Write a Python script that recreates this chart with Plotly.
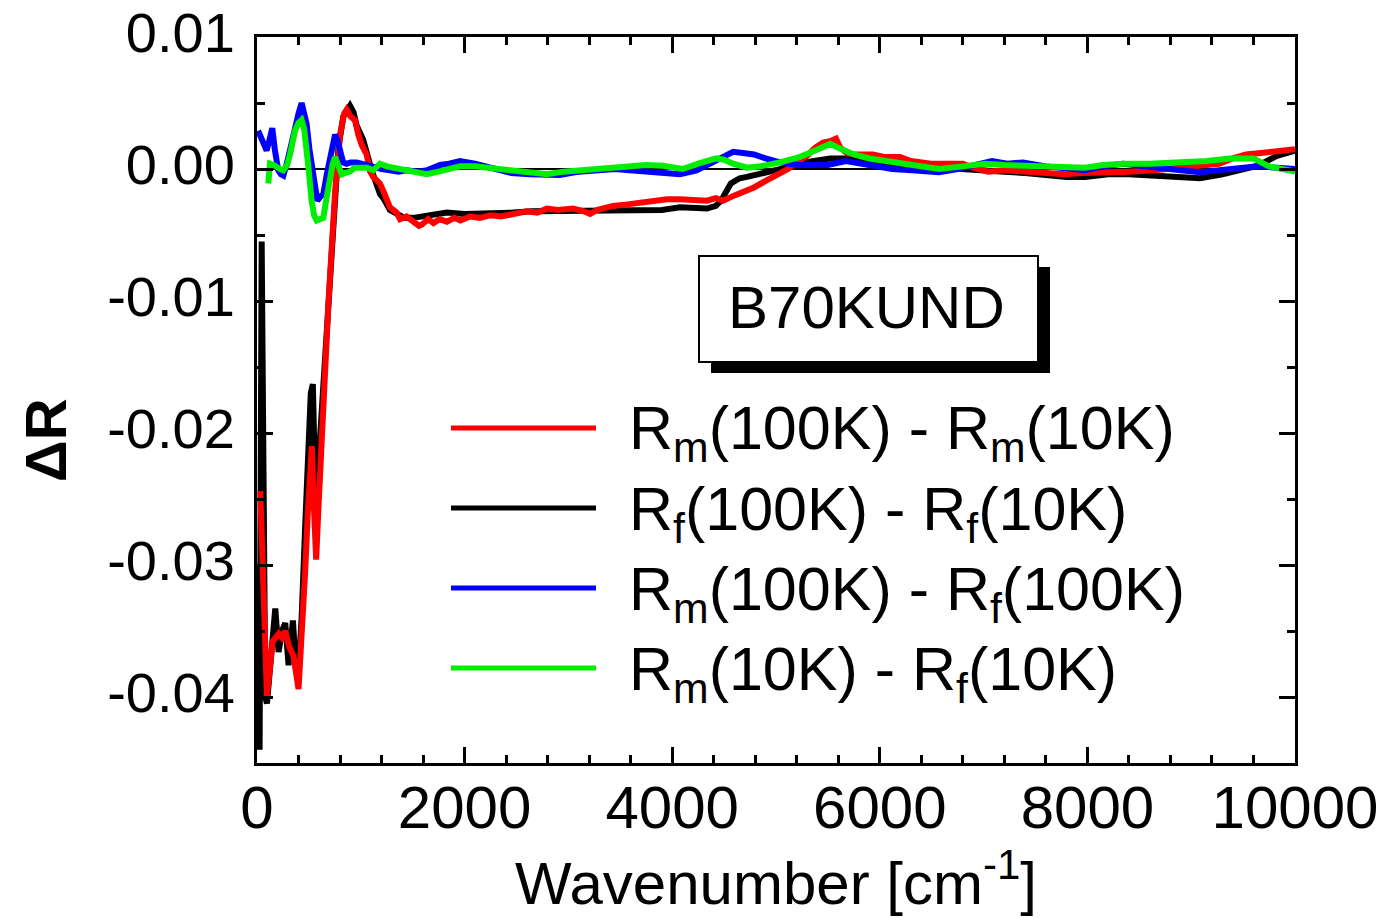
import plotly.graph_objects as go

# Wavenumber (cm^-1) and reflectance differences for sample B70KUND
wn_m100_m10 = [32, 60, 96, 150, 176, 210, 240, 272, 310, 352, 400, 430, 464, 490, 512, 528, 545, 570, 590,
               624, 688, 752, 800, 840, 864, 900, 944, 976, 1010, 1056, 1090, 1120, 1185, 1230, 1281, 1345,
               1378, 1440, 1503, 1560, 1590, 1650, 1700, 1760, 1830, 1900, 1960, 2050, 2148, 2250, 2350,
               2466, 2600, 2700, 2794, 2900, 3044, 3150, 3208, 3280, 3430, 3550, 3650, 3757, 3850, 3950,
               4075, 4200, 4335, 4420, 4490, 4600, 4720, 4788, 4900, 5038, 5116, 5200, 5298, 5376, 5453,
               5520, 5578, 5620, 5684, 5760, 5838, 5934, 6050, 6195, 6300, 6493, 6650, 6800, 6900, 7042,
               7200, 7418, 7600, 7784, 7950, 8160, 8400, 8642, 8800, 8970, 9100, 9268, 9400, 9528, 9650,
               9826, 10000]
dR_m100_m10 = [-0.0244, -0.0330, -0.0400, -0.0358, -0.0355, -0.0352, -0.0355, -0.0350, -0.0362, -0.0369,
               -0.0394, -0.0360, -0.0305, -0.0260, -0.0215, -0.0210, -0.0250, -0.0296, -0.0260, -0.0203,
               -0.0102, -0.0018, 0.0026, 0.0042, 0.0045, 0.0040, 0.0037, 0.0026, 0.0018, 0.0011, -0.0002,
               -0.0006, -0.0011, -0.0019, -0.0029, -0.0033, -0.0038, -0.0036, -0.0039, -0.0043, -0.0042,
               -0.0038, -0.0041, -0.0038, -0.0040, -0.0037, -0.0039, -0.0036, -0.0037, -0.0035, -0.0036,
               -0.0034, -0.0032, -0.0033, -0.0030, -0.0031, -0.0030, -0.0032, -0.0034, -0.0031, -0.0028,
               -0.0027, -0.0026, -0.0025, -0.0024, -0.0023, -0.0023, -0.0024, -0.0024, -0.0022, -0.0024,
               -0.0020, -0.0016, -0.0014, -0.0009, -0.0004, 0.0000, 0.0005, 0.0010, 0.0016, 0.0020, 0.0021,
               0.0023, 0.0016, 0.0012, 0.0011, 0.0011, 0.0011, 0.0009, 0.0009, 0.0006, 0.0004, 0.0004,
               0.0004, 0.0001, -0.0002, -0.0001, -0.0002, -0.0003, -0.0004, -0.0003, -0.0003, -0.0002,
               -0.0001, 0.0000, 0.0001, 0.0002, 0.0004, 0.0008, 0.0011, 0.0012, 0.0014, 0.0015]

wn_f100_f10 = [15, 25, 45, 58, 80, 96, 140, 176, 208, 240, 272, 304, 346, 378, 400, 430, 464, 496, 518,
               538, 550, 570, 608, 672, 736, 784, 832, 896, 930, 960, 1024, 1060, 1104, 1185, 1217, 1281,
               1345, 1420, 1506, 1600, 1700, 1830, 2000, 2148, 2300, 2466, 2650, 2794, 3000, 3200, 3430,
               3600, 3757, 3900, 4075, 4200, 4335, 4420, 4470, 4565, 4650, 4720, 4850, 4942, 5100, 5200,
               5308, 5521, 5674, 5800, 6000, 6310, 6600, 6900, 7200, 7400, 7601, 7800, 7977, 8200, 8400,
               8718, 8900, 9085, 9300, 9451, 9643, 9826, 10000]
dR_f100_f10 = [-0.0300, -0.0440, -0.0055, -0.0200, -0.0400, -0.0405, -0.0360, -0.0333, -0.0366, -0.0350,
               -0.0344, -0.0376, -0.0342, -0.0382, -0.0380, -0.0340, -0.0271, -0.0220, -0.0170, -0.0163,
               -0.0220, -0.0271, -0.0203, -0.0122, -0.0034, 0.0016, 0.0040, 0.0048, 0.0043, 0.0033,
               0.0022, 0.0010, -0.0001, -0.0019, -0.0022, -0.0031, -0.0034, -0.0037, -0.0037, -0.0036,
               -0.0034, -0.0033, -0.0034, -0.0034, -0.0034, -0.0033, -0.0032, -0.0032, -0.0032, -0.0032,
               -0.0031, -0.0032, -0.0032, -0.0031, -0.0029, -0.0029, -0.0030, -0.0028, -0.0024, -0.0011,
               -0.0007, -0.0006, -0.0004, -0.00025, 0.0001, 0.0004, 0.0005, 0.0008, 0.0008, 0.0007, 0.0005,
               0.0002, 0.0001, -0.0001, -0.0002, -0.0003, -0.0005, -0.0006, -0.0006, -0.0004, -0.0004,
               -0.0005, -0.0006, -0.0007, -0.0004, -0.0001, 0.00025, 0.0010, 0.0014]

wn_m100_f100 = [10, 40, 61, 93, 120, 147, 173, 205, 230, 254, 290, 320, 350, 400, 430, 455, 478, 505, 526,
                555, 581, 610, 639, 670, 703, 730, 752, 775, 800, 830, 864, 900, 960, 1040, 1120, 1200,
                1281, 1360, 1441, 1550, 1638, 1763, 1850, 1956, 2100, 2308, 2450, 2627, 2916, 3100, 3270,
                3450, 3590, 3800, 4075, 4235, 4394, 4500, 4587, 4700, 4788, 4900, 5038, 5200, 5360, 5500,
                5674, 5800, 5934, 6120, 6310, 6570, 6750, 6900, 7082, 7230, 7380, 7601, 7800, 7977, 8150,
                8346, 8550, 8718, 8900, 9085, 9300, 9450, 9643, 9826, 10000]
dR_m100_f100 = [0.0029, 0.0024, 0.0020, 0.0014, 0.0022, 0.0031, 0.0014, -0.0001, -0.0004, -0.0005,
                0.0005, 0.0016, 0.0026, 0.0042, 0.0050, 0.0043, 0.0034, 0.0015, 0.0004, -0.0015, -0.0024,
                -0.0021, -0.0019, -0.0005, 0.0009, 0.0020, 0.0026, 0.0022, 0.0014, 0.0005, 0.0004, 0.0005,
                0.0005, 0.0003, 0.0002, 0.0000, -0.0001, -0.0002, -0.0001, -0.0002, -0.0001, 0.0003,
                0.0004, 0.0006, 0.0004, 0.0000, -0.0003, -0.0004, -0.00045, -0.0002, -0.0001, 0.0000,
                -0.0001, -0.0002, -0.0004, -0.0001, 0.0005, 0.0010, 0.0013, 0.0012, 0.0011, 0.0008, 0.0005,
                0.0003, 0.00025, 0.0003, 0.0006, 0.0004, 0.0002, 0.0000, -0.0001, -0.00025, 0.0000, 0.0003,
                0.0006, 0.0004, 0.0005, 0.0002, 0.0000, -0.0001, 0.0002, 0.0004, 0.0002, 0.0001, -0.0001,
                -0.00025, -0.0001, 0.0001, 0.0002, 0.0001, 0.0000]

wn_m10_f10 = [109, 115, 125, 160, 189, 222, 254, 290, 318, 345, 366, 400, 430, 455, 478, 500, 526, 550,
              575, 610, 639, 670, 703, 730, 752, 780, 816, 850, 896, 940, 992, 1060, 1120, 1185, 1250, 1313,
              1400, 1500, 1634, 1750, 1850, 1956, 2100, 2300, 2466, 2650, 2794, 2950, 3113, 3300, 3590,
              3750, 3910, 4100, 4250, 4426, 4500, 4587, 4720, 4850, 5038, 5226, 5350, 5450, 5524, 5600,
              5750, 5900, 6120, 6350, 6570, 6800, 7012, 7200, 7500, 7750, 7977, 8150, 8346, 8600, 8900,
              9150, 9377, 9600, 9750, 9900, 10000]
dR_m10_f10 = [-0.0011, -0.0004, 0.0004, 0.0003, 0.0001, 0.0000, -0.0001, 0.0003, 0.0011, 0.0022, 0.0029,
              0.0035, 0.0037, 0.0030, 0.0016, -0.0002, -0.0024, -0.0035, -0.0039, -0.0038, -0.0037,
              -0.0022, -0.0006, 0.0004, 0.0009, 0.0004, -0.0004, -0.0003, -0.0002, 0.0001, 0.0001, 0.0001,
              -0.0001, 0.0004, 0.0002, 0.0001, -0.0001, -0.0002, -0.0004, -0.0002, 0.0000, 0.0002, 0.0002,
              0.0000, -0.0001, -0.0003, -0.0004, -0.0002, -0.0001, 0.0001, 0.00025, 0.0003, 0.00025,
              0.0000, 0.0004, 0.0008, 0.0007, 0.0004, 0.0001, 0.0002, 0.0005, 0.0009, 0.0013, 0.0017,
              0.0019, 0.0016, 0.0011, 0.0008, 0.0005, 0.0002, 0.0000, 0.0002, 0.0004, 0.0003, 0.0002,
              0.0001, 0.0001, 0.0003, 0.0004, 0.0004, 0.0005, 0.0006, 0.0008, 0.0008, 0.0002, -0.0001,
              -0.0002]

# axis tick values and their printed labels
x_tickvals = [0, 2000, 4000, 6000, 8000, 10000]
x_ticktext = ["0", "2000", "4000", "6000", "8000", "10000"]
y_tickvals = [0.01, 0.0, -0.01, -0.02, -0.03, -0.04]
y_ticktext = ["0.01", "0.00", "-0.01", "-0.02", "-0.03", "-0.04"]

series = [
    ("R<sub>f</sub>(100K) - R<sub>f</sub>(10K)", wn_f100_f10, dR_f100_f10, "#000000"),
    ("R<sub>m</sub>(100K) - R<sub>m</sub>(10K)", wn_m100_m10, dR_m100_m10, "#ff0000"),
    ("R<sub>m</sub>(100K) - R<sub>f</sub>(100K)", wn_m100_f100, dR_m100_f100, "#0000ff"),
    ("R<sub>m</sub>(10K) - R<sub>f</sub>(10K)", wn_m10_f10, dR_m10_f10, "#00ee00"),
]
legend_order = [1, 0, 2, 3]

FONT = "Arial, Liberation Sans, sans-serif"
W, H = 1383, 918
L, R, T, B = 257, 88, 37, 155

fig = go.Figure()
for name, x, y, c in series:
    fig.add_trace(go.Scatter(x=x, y=y, mode="lines", name=name,
                             line=dict(color=c, width=6), showlegend=False))


def px_x(p):
    return (p - L) / (W - L - R)


def px_y(p):
    return (H - B - p) / (H - T - B)


shapes = []
annotations = []

# sample label box with drop shadow
shapes.append(dict(type="rect", xref="paper", yref="paper",
                   x0=px_x(711), x1=px_x(1050), y0=px_y(373), y1=px_y(267),
                   fillcolor="black", line=dict(width=0)))
shapes.append(dict(type="rect", xref="paper", yref="paper",
                   x0=px_x(699), x1=px_x(1038), y0=px_y(362), y1=px_y(256),
                   fillcolor="white", line=dict(color="black", width=2)))
annotations.append(dict(text="B70KUND", xref="paper", yref="paper",
                        x=px_x(866), y=px_y(307), xanchor="center", yanchor="middle",
                        showarrow=False, font=dict(family=FONT, size=60, color="black")))

# legend drawn as line samples with labels
row_y = [428, 508, 588, 668]
for k, idx in enumerate(legend_order):
    name, _, _, c = series[idx]
    yy = px_y(row_y[k])
    shapes.append(dict(type="line", xref="paper", yref="paper",
                       x0=px_x(451), x1=px_x(596), y0=yy, y1=yy,
                       line=dict(color=c, width=5)))
    annotations.append(dict(text=name, xref="paper", yref="paper",
                            x=px_x(627), y=px_y(row_y[k] + 5), xanchor="left", yanchor="middle",
                            showarrow=False, font=dict(family=FONT, size=61, color="black")))

# y-axis title
annotations.append(dict(text="<b>ΔR</b>", xref="paper", yref="paper",
                        x=px_x(45), y=px_y(440), xanchor="center", yanchor="middle",
                        textangle=-90, showarrow=False,
                        font=dict(family=FONT, size=58, color="black")))

fig.update_layout(
    width=W, height=H,
    margin=dict(l=L, r=R, t=T, b=B, autoexpand=False),
    paper_bgcolor="white", plot_bgcolor="white",
    font=dict(family=FONT, color="black"),
    shapes=shapes, annotations=annotations,
)

fig.update_xaxes(
    range=[0, 10000], tickmode="array", tickvals=x_tickvals, ticktext=x_ticktext,
    ticks="inside", ticklen=16, tickwidth=3, tickcolor="black",
    minor=dict(ticks="inside", dtick=400, tick0=0, ticklen=8, tickwidth=3, tickcolor="black"),
    showline=True, linewidth=3, linecolor="black", mirror="ticks",
    showgrid=False, zeroline=False, automargin=False,
    tickfont=dict(family=FONT, size=60, color="black"),
    ticklabelstandoff=-10,
    title=dict(text="Wavenumber [cm<sup>-1</sup>]", font=dict(family=FONT, size=60, color="black"),
               standoff=8),
)
fig.update_yaxes(
    range=[-0.045, 0.01], tickmode="array", tickvals=y_tickvals, ticktext=y_ticktext,
    ticks="inside", ticklen=16, tickwidth=3, tickcolor="black",
    minor=dict(ticks="inside", dtick=0.005, tick0=0, ticklen=8, tickwidth=3, tickcolor="black"),
    showline=True, linewidth=3, linecolor="black", mirror="ticks",
    showgrid=False, zeroline=True, zerolinecolor="black", zerolinewidth=2, automargin=False,
    tickfont=dict(family=FONT, size=56, color="black"),
    ticklabelstandoff=8, ticklabelshift=-5, ticklabeloverflow="allow",
)

fig.write_html("out.html")
